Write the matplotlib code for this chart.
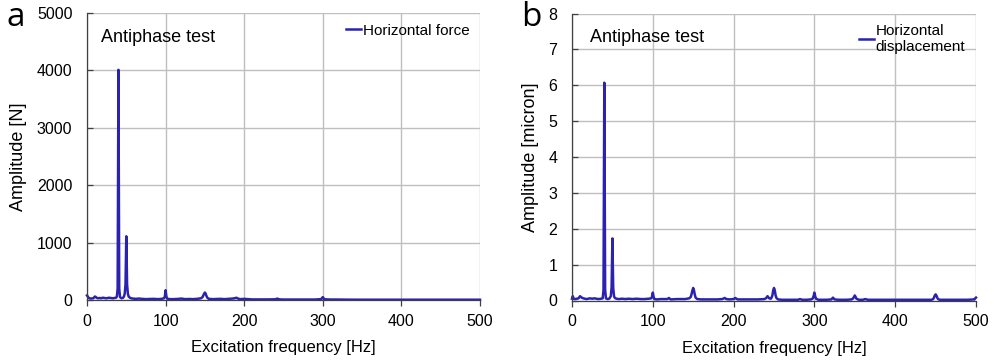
import matplotlib
matplotlib.use("Agg")
import matplotlib.pyplot as plt

plt.rcParams['font.family'] = ['Liberation Sans', 'DejaVu Sans']

# Panel a: horizontal force spectrum (Hz, N)
force_freq = [0, 1, 2, 3, 5, 8, 10, 11, 12, 14, 16, 18, 20, 22, 25, 28, 30, 33, 35, 37, 38, 39, 40, 41, 42, 44,
              46, 47, 48, 49, 50, 51, 52, 53, 55, 58, 62, 66, 70, 75, 80, 85, 90, 95, 98, 99, 100, 101, 102,
              105, 110, 115, 120, 125, 130, 135, 140, 145, 147, 148, 149, 150, 151, 152, 153, 155, 160, 165,
              170, 175, 180, 185, 188, 190, 192, 195, 200, 205, 210, 220, 230, 240, 242, 245, 250, 260, 270, 280,
              290, 298, 300, 302, 310, 320, 330, 350, 380, 400, 420, 450, 480, 500]
force_amp = [80, 60, 40, 30, 25, 30, 60, 55, 40, 30, 35, 30, 40, 35, 30, 40, 35, 30, 35, 40, 60, 200, 4010, 200, 50, 30,
             40, 60, 110, 270, 1110, 270, 110, 60, 35, 25, 20, 25, 20, 15, 18, 20, 15, 20, 30, 60, 170, 60, 25,
             15, 15, 18, 25, 15, 18, 15, 20, 30, 50, 80, 110, 130, 110, 70, 40, 20, 15, 18,
             20, 15, 20, 25, 30, 40, 25, 15, 20, 15, 10, 10, 10, 12, 25, 10, 8, 8, 8, 8,
             8, 15, 50, 12, 8, 8, 6, 5, 5, 5, 5, 5, 5, 5]

# Panel b: horizontal displacement spectrum (Hz, micron)
disp_freq = [0, 1, 2, 4, 6, 8, 10, 11, 12, 14, 16, 18, 20, 22, 25, 28, 30, 33, 36, 38, 39, 40, 41, 42, 44,
             46, 47, 48, 49, 50, 51, 52, 53, 55, 58, 62, 66, 70, 75, 80, 85, 90, 95, 98, 99, 100, 101, 102,
             105, 110, 118, 120, 122, 130, 140, 145, 147, 148, 149, 150, 151, 152, 153, 155, 160, 170, 180,
             186, 189, 191, 195, 200, 202, 205, 210, 220, 230, 238, 240, 242, 244, 246, 247, 248, 249, 250,
             251, 252, 253, 255, 260, 270, 280, 282, 285, 290, 296, 298, 299, 300, 301, 302, 305, 315, 321,
             323, 325, 330, 340, 346, 348, 349, 350, 351, 352, 355, 360, 363, 366, 375, 390, 410, 430, 445,
             447, 448, 449, 450, 451, 452, 453, 455, 470, 490, 498, 499, 500]
disp_amp = [0.05, 0.12, 0.05, 0.04, 0.05, 0.06, 0.12, 0.10, 0.08, 0.06, 0.05, 0.04, 0.05, 0.06, 0.05, 0.06, 0.05,
            0.04, 0.05, 0.06, 0.30, 6.07, 0.30, 0.06, 0.04,
            0.05, 0.08, 0.12, 0.35, 1.73, 0.35, 0.12, 0.07, 0.05, 0.04, 0.05, 0.04, 0.05, 0.04, 0.05, 0.04, 0.04,
            0.05, 0.06, 0.10, 0.22, 0.10, 0.04,
            0.03, 0.04, 0.04, 0.07, 0.03, 0.04, 0.04, 0.06, 0.10, 0.18, 0.28, 0.35, 0.28, 0.16, 0.08, 0.04, 0.03,
            0.03, 0.03,
            0.04, 0.07, 0.04, 0.03, 0.04, 0.07, 0.03, 0.03, 0.03, 0.03, 0.04, 0.06, 0.12, 0.06, 0.05, 0.08, 0.14,
            0.28, 0.35,
            0.28, 0.14, 0.07, 0.03, 0.02, 0.02, 0.02, 0.04, 0.02, 0.02, 0.03, 0.06, 0.12, 0.22, 0.12, 0.05,
            0.02, 0.02, 0.03,
            0.08, 0.03, 0.02, 0.02, 0.03, 0.06, 0.10, 0.14, 0.10, 0.05, 0.02, 0.02, 0.04, 0.02, 0.02, 0.02, 0.02,
            0.02, 0.02,
            0.04, 0.08, 0.14, 0.17, 0.14, 0.08, 0.04, 0.02, 0.02, 0.02, 0.03, 0.06, 0.08]

x_ticks = [0, 100, 200, 300, 400, 500]
force_ticks = [0, 1000, 2000, 3000, 4000, 5000]
disp_ticks = [0, 1, 2, 3, 4, 5, 6, 7, 8]

line_color = '#2B22B0'
grid_color = '#BFBFBF'

fig = plt.figure(figsize=(9.96, 3.64), dpi=100)
ax1 = fig.add_axes([87 / 996, 1 - 300 / 364, 393 / 996, 287 / 364])
ax2 = fig.add_axes([572 / 996, 1 - 300.5 / 364, 404 / 996, 287 / 364])


def style(ax, yticks):
    ax.set_xlim(0, 500)
    ax.set_ylim(yticks[0], yticks[-1])
    ax.set_xticks(x_ticks)
    ax.set_yticks(yticks)
    ax.grid(True, color=grid_color, linewidth=1.0)
    ax.set_axisbelow(True)
    for s in ['top', 'right']:
        ax.spines[s].set_visible(False)
    for s in ['left', 'bottom']:
        ax.spines[s].set_color('#404040')
        ax.spines[s].set_linewidth(0.9)
    ax.tick_params(axis='both', labelsize=11.5, width=0.9, color='#404040')
    ax.tick_params(axis='x', direction='out', length=4, pad=6)
    ax.tick_params(axis='y', direction='in', length=4, pad=10.5)
    ax.set_xlabel('Excitation frequency [Hz]', fontsize=12, labelpad=8)


ax1.plot(force_freq, force_amp, color=line_color, linewidth=1.8, label='Horizontal force', clip_on=False)
style(ax1, force_ticks)
ax1.set_ylabel('Amplitude [N]', fontsize=13, labelpad=7)
ax1.text(0.036, 0.915, 'Antiphase test', transform=ax1.transAxes, fontsize=13, va='center', ha='left')
ax1.legend(loc='upper right', bbox_to_anchor=(1.0, 1.0), frameon=False, fontsize=11, handlelength=1.0,
           handletextpad=0.1, borderaxespad=0.3)

ax2.plot(disp_freq, disp_amp, color=line_color, linewidth=1.8, label='Horizontal\ndisplacement', clip_on=False)
style(ax2, disp_ticks)
ax2.set_ylabel('Amplitude [micron]', fontsize=13, labelpad=7)
ax2.text(0.044, 0.915, 'Antiphase test', transform=ax2.transAxes, fontsize=13, va='center', ha='left')
ax2.legend(loc='upper right', bbox_to_anchor=(1.0, 1.0), frameon=False, fontsize=11, handlelength=1.0,
           handletextpad=0.1, borderaxespad=0.3, labelspacing=0.1)

fig.text(6 / 996, 1 - 18 / 364, 'a', fontsize=24, family=['Open Sans', 'DejaVu Sans'], va='center', ha='left')
fig.text(521 / 996, 1 - 18 / 364, 'b', fontsize=24, family=['Open Sans', 'DejaVu Sans'], va='center', ha='left')

fig.savefig('out.png', dpi=100)
